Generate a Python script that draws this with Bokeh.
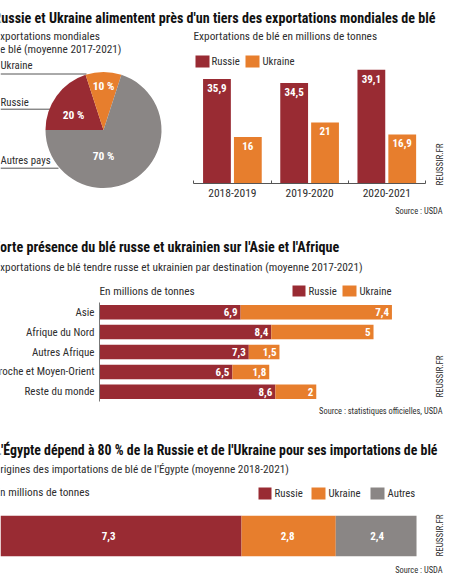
from bokeh.plotting import figure
from bokeh.core.properties import value
from bokeh.models import ColumnDataSource, FixedTicker, Label, LabelSet, LinearAxis, Range1d
from bokeh.embed import file_html
from bokeh.resources import INLINE
import math

# ---- data ----
title_1 = "Russie et Ukraine alimentent près d'un tiers des exportations mondiales de blé"
pie_names = ["Ukraine", "Russie", "Autres pays"]
pie_share = [10, 20, 70]
years = ["2018-2019", "2019-2020", "2020-2021"]
russie_exports = [35.9, 34.5, 39.1]
ukraine_exports = [16, 21, 16.9]
russie_labels = ["35,9", "34,5", "39,1"]
ukraine_labels = ["16", "21", "16,9"]

title_2 = "Forte présence du blé russe et ukrainien sur l'Asie et l'Afrique"
destinations = ["Asie", "Afrique du Nord", "Autres Afrique", "Proche et Moyen-Orient", "Reste du monde"]
russie_dest = [6.9, 8.4, 7.3, 6.5, 8.6]
ukraine_dest = [7.4, 5, 1.5, 1.8, 2]
russie_dest_labels = ["6,9", "8,4", "7,3", "6,5", "8,6"]
ukraine_dest_labels = ["7,4", "5", "1,5", "1,8", "2"]

title_3 = "L'Égypte dépend à 80 % de la Russie et de l'Ukraine pour ses importations de blé"
origins = ["Russie", "Ukraine", "Autres"]
egypt_values = [7.3, 2.8, 2.4]
egypt_labels = ["7,3", "2,8", "2,4"]

# ---- style ----
RED, ORANGE, GREY = "#992b33", "#e77e2d", "#8a8685"
INK = "#2e2e2e"
FONT = "Roboto Condensed"
W, H = 450, 576


def span(px0, px_per_unit, size):
    """Range whose value 0 falls at pixel px0 of a span of `size` pixels."""
    return Range1d(-px0 / px_per_unit, (size - px0) / px_per_unit)


def vspan(py0, px_per_unit):
    """Vertical range, value 0 at page row py0, values growing upward."""
    return Range1d((py0 - H) / px_per_unit, py0 / px_per_unit)


# the default ranges are the page's own pixels, for texts and legend swatches
p = figure(width=W, height=H, output_backend="svg", toolbar_location=None,
           x_range=Range1d(0, W), y_range=Range1d(H, 0),
           x_axis_type=None, y_axis_type=None, min_border=0,
           outline_line_color=None, background_fill_color=None,
           styles={"position": "absolute", "left": "0px", "top": "0px"})
p.xgrid.visible = False
p.ygrid.visible = False
p.extra_x_ranges = {
    "pie": span(103, 1, W), "bars": span(193.3, 77.2, W),
    "dest": span(99, 20.45, W), "egypt": span(-4.6, 33.65, W),
}
p.extra_y_ranges = {
    "pie": vspan(129.5, 1), "bars": vspan(183.3, 2.92),
    "dest": Range1d((H - 311.7) / 19.9, -311.7 / 19.9), "egypt": vspan(535.5, 40.4),
}


def text(s, x, y, size=10, bold=False, color=INK, align="left", angle=0):
    p.add_layout(Label(x=x, y=y, text=s, text_font=FONT, text_font_size=f"{size}px",
                       text_color=color, text_font_style="bold" if bold else "normal",
                       text_align=align, text_baseline="middle", angle=angle, angle_units="deg"))


def swatch(x0, x1, y0, y1, color):
    p.quad(left=x0, right=x1, top=y0, bottom=y1, fill_color=color, line_color=None)


def value_labels(name, xs, ys, labels, dx=0, dy=0, size=11, align="center"):
    src = ColumnDataSource(dict(x=xs, y=ys, t=labels))
    p.add_layout(LabelSet(x="x", y="y", text="t", source=src, x_offset=dx, y_offset=dy,
                          x_range_name=name, y_range_name=name,
                          text_color="white", text_font=value(FONT), text_font_style="bold",
                          text_font_size=f"{size}px", text_align=align, text_baseline="middle"))


def style_axis(ax, size):
    ax.major_label_text_font = FONT
    ax.major_label_text_font_size = f"{size}px"
    ax.major_label_text_color = INK
    ax.major_tick_line_color = None
    ax.major_tick_in = 0
    ax.major_tick_out = 0


TITLE, SUB, LEG, SMALL, MARK = 14.1, 11.3, 10.8, 8.4, 9

# ---- pie ----
leader_y = [56, 20.8, -38.2]
leader_x = [-17, -53, -45]
p.segment(x0=[-103] * 3, x1=leader_x, y0=leader_y, y1=leader_y, line_color="#555555", line_width=1,
          x_range_name="pie", y_range_name="pie")
edge = math.pi
russie_a0 = edge - pie_share[1] * 2 * math.pi / 100
ukraine_a0 = russie_a0 - pie_share[0] * 2 * math.pi / 100
for a0, a1, c in [(russie_a0, edge, RED), (ukraine_a0, russie_a0, ORANGE), (edge, ukraine_a0, GREY)]:
    p.wedge(x=0, y=0, radius=58, start_angle=a0, end_angle=a1, fill_color=c, line_color=None,
            x_range_name="pie", y_range_name="pie")
for s, x, y in zip([f"{v} %" for v in pie_share], [103, 73, 103], [85, 114, 155]):
    text(s, x, y, 11.5, True, "white", "center")
for s, y in zip(pie_names, [65, 102, 160]):
    text(s, 0, y, LEG)
text(title_1, -7, 17, TITLE, True, "#111111")
text("Exportations mondiales", -6, 36, SUB)
text("de blé (moyenne 2017-2021)", -6, 49, SUB)

# ---- grouped bars ----
xc = [i + 0.5 for i in range(3)]
xr = [x - 0.2 for x in xc]
xu = [x + 0.2 for x in xc]
p.vbar(x=xr, top=russie_exports, width=0.36, fill_color=RED, line_color=None,
       x_range_name="bars", y_range_name="bars")
p.vbar(x=xu, top=ukraine_exports, width=0.36, fill_color=ORANGE, line_color=None,
       x_range_name="bars", y_range_name="bars")
value_labels("bars", xr, russie_exports, russie_labels, dy=-9)
value_labels("bars", xu, ukraine_exports, ukraine_labels, dy=-9)
ax = LinearAxis(x_range_name="bars", y_range_name="bars", fixed_location=0, bounds=(0, 3),
                ticker=FixedTicker(ticks=xc, minor_ticks=[0, 1, 2, 3]),
                major_label_overrides=dict(zip(xc, years)))
style_axis(ax, 11.5)
ax.minor_tick_in, ax.minor_tick_out = 3, 0
ax.minor_tick_line_color = "#555555"
ax.axis_line_color = "#555555"
ax.major_label_standoff = 5
p.add_layout(ax, "below")
text("Exportations de blé en millions de tonnes", 193, 36, SUB)
swatch(195, 209, 55, 67, RED)
text("Russie", 211, 61, LEG)
swatch(245, 259, 55, 67, ORANGE)
text("Ukraine", 262, 61, LEG)
text("REUSSIR.FR", 439, 185, MARK, angle=90)
text("Source : USDA", 442, 210, SMALL, align="right")

# ---- stacked horizontal bars ----
rows = list(range(len(destinations)))
ends = [a + b for a, b in zip(russie_dest, ukraine_dest)]
p.hbar(y=rows, left=0, right=russie_dest, height=0.73, fill_color=RED, line_color=None,
       x_range_name="dest", y_range_name="dest")
p.hbar(y=rows, left=russie_dest, right=ends, height=0.73, fill_color=ORANGE, line_color=None,
       x_range_name="dest", y_range_name="dest")
value_labels("dest", russie_dest, rows, russie_dest_labels, dx=-3, align="right")
value_labels("dest", ends, rows, ukraine_dest_labels, dx=-3, align="right")
ay = LinearAxis(x_range_name="dest", y_range_name="dest", fixed_location=0, bounds=(-0.5, 4.5),
                ticker=FixedTicker(ticks=rows), major_label_overrides=dict(zip(rows, destinations)))
style_axis(ay, 11)
ay.minor_tick_line_color = None
ay.axis_line_color = "#777777"
ay.major_label_standoff = 5
p.add_layout(ay, "left")
text(title_2, -7, 246, TITLE, True, "#111111")
text("Exportations de blé tendre russe et ukrainien par destination (moyenne 2017-2021)", -6, 267, SUB)
text("En millions de tonnes", 99, 291, SUB)
swatch(292, 305, 285, 296, RED)
text("Russie", 308, 291, LEG)
swatch(342, 356, 285, 296, ORANGE)
text("Ukraine", 359, 291, LEG)
text("REUSSIR.FR", 439, 397, MARK, angle=90)
text("Source : statistiques officielles, USDA", 442, 410, SMALL, align="right")

# ---- single stacked bar ----
lefts = [sum(egypt_values[:i]) for i in range(3)]
rights = [sum(egypt_values[:i + 1]) for i in range(3)]
for l, r, c in zip(lefts, rights, [RED, ORANGE, GREY]):
    p.hbar(y=[0], left=l, right=r, height=1, fill_color=c, line_color=None,
           x_range_name="egypt", y_range_name="egypt")
for l, r, t, dx in zip(lefts, rights, egypt_labels, [-10, -1, 1]):
    value_labels("egypt", [(l + r) / 2], [0], [t], dx=dx)
text(title_3, -6, 449, 13.85, True, "#111111")
text("Origines des importations de blé de l'Égypte (moyenne 2018-2021)", -7, 469, SUB)
text("En millions de tonnes", -6, 492, SUB)
for name, c, x0, x1, tx in zip(origins, [RED, ORANGE, GREY], [258, 311, 370], [271, 325, 384], [274, 328, 387]):
    swatch(x0, x1, 487, 499, c)
    text(name, tx, 493, LEG)
text("REUSSIR.FR", 439, 556, MARK, angle=90)
text("Source : USDA", 442, 569, SMALL, align="right")

open("out.html", "w").write(file_html(p, INLINE))
